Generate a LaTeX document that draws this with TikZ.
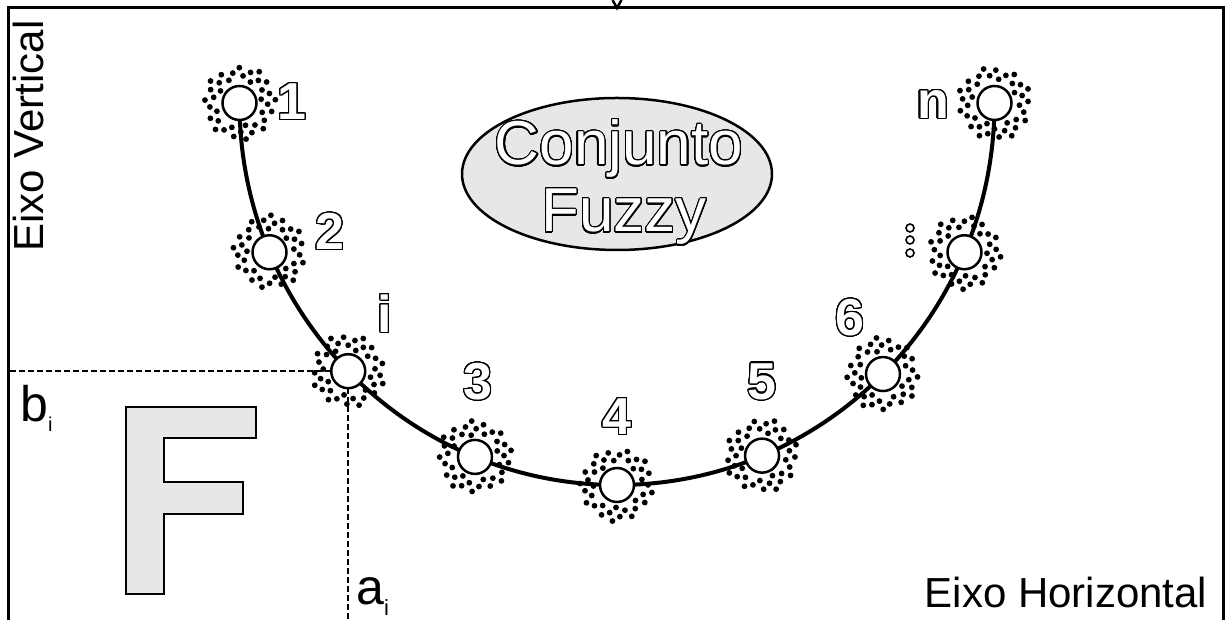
\documentclass[tikz,border=0pt]{standalone}
\usepackage{fontspec}
\setmainfont{Liberation Sans}
\usepackage{contour}
\contourlength{1.2pt}
\contournumber{32}
\usetikzlibrary{shapes.geometric,calc}
\definecolor{lightfill}{HTML}{E6E7E8}
\tikzset{
  frameline/.style={line width=3pt, line join=miter},
  curveline/.style={line width=4pt},
  ringnode/.style={circle, draw, line width=2.5pt, fill=white, minimum size=34pt, inner sep=0pt},
  numlabel/.style={inner sep=0pt, font=\fontsize{52}{52}\selectfont\bfseries, text=white},
  bigtext/.style={inner sep=0pt, font=\fontsize{62}{62}\selectfont, text=white, anchor=base},
  axislabel/.style={inner sep=0pt, font=\fontsize{42}{42}\selectfont},
  sublabel/.style={inner sep=0pt, font=\fontsize{50}{50}\selectfont, anchor=base west},
  dashline/.style={line width=2pt, dash pattern=on 6pt off 3pt},
  smalldot/.style={circle, draw, line width=1.6pt, fill=white, minimum size=8pt, inner sep=0pt},
  pics/puff/.style={code={
    \foreach \k in {0,...,37} {\fill ({mod(\k*137.508+#1,360)}:{sqrt(484+23.92*\k)}) circle (2.9);}
  }}
}
\begin{document}
\begin{tikzpicture}[x=1pt,y=1pt]
\useasboundingbox (0,0) rectangle (1229,620);
% frame
\draw[frameline] (8,-5) -- (8,612) -- (1223,612) -- (1223,-5);
\coordinate (tiptop) at (617,612);
\draw[line width=2.5pt, line join=miter] ($(tiptop)+(-4.5,8)$) -- (tiptop) -- ($(tiptop)+(4.5,8)$);
% positions on the curve
\coordinate (C) at (617,517);
\coordinate (qa) at ($(C)+(180:377.5 and 382)$);
\coordinate (qb) at ($(C)+(203:377.5 and 382)$);
\coordinate (qi) at ($(C)+(224.6:377.5 and 382)$);
\coordinate (qc) at ($(C)+(247.9:377.5 and 382)$);
\coordinate (qd) at ($(C)+(270:377.5 and 382)$);
\coordinate (qe) at ($(C)+(292.6:377.5 and 382)$);
\coordinate (qf) at ($(C)+(314.8:377.5 and 382)$);
\coordinate (qg) at ($(C)+(337:377.5 and 382)$);
\coordinate (qn) at ($(C)+(360:377.5 and 382)$);
% curve
\draw[curveline] (qa) arc[start angle=180, end angle=360, x radius=377.5pt, y radius=382pt];
% dashed guides
\coordinate (leftedge) at (8,0);
\coordinate (bottomedge) at (0,0);
\draw[dashline] ($(qi)+(-17,0)$) -- (qi -| leftedge);
\draw[dashline] ($(qi)+(0,-17)$) -- (qi |- bottomedge);
% puffs
\pic at (qa) {puff=10};
\pic at (qb) {puff=40};
\pic at (qi) {puff=70};
\pic at (qc) {puff=100};
\pic at (qd) {puff=130};
\pic at (qe) {puff=160};
\pic at (qf) {puff=190};
\pic at (qg) {puff=220};
\pic at (qn) {puff=250};
% ring nodes
\node[ringnode] (n1) at (qa) {};
\node[ringnode] (n2) at (qb) {};
\node[ringnode] (ni) at (qi) {};
\node[ringnode] (n3) at (qc) {};
\node[ringnode] (n4) at (qd) {};
\node[ringnode] (n5) at (qe) {};
\node[ringnode] (n6) at (qf) {};
\node[ringnode] (nd) at (qg) {};
\node[ringnode] (nn) at (qn) {};
% labels
\node[numlabel] (l1) at (292,518) {\contour{black}{1}};
\node[numlabel] (l2) at (330,388) {\contour{black}{2}};
\node[numlabel] (li) at (385,306) {\contour{black}{i}};
\node[numlabel] (l3) at (478,238) {\contour{black}{3}};
\node[numlabel] (l4) at (617,203) {\contour{black}{4}};
\node[numlabel] (l5) at (762,238) {\contour{black}{5}};
\node[numlabel] (l6) at (850,302) {\contour{black}{6}};
\node[numlabel] (ln) at (933,515) {\contour{black}{n}};
\node[smalldot] (d1) at (910,392) {};
\node[smalldot] (d2) at (910,380) {};
\node[smalldot] (d3) at (910,367) {};
% fuzzy ellipse
\node[ellipse, draw, line width=2.5pt, fill=lightfill, minimum width=310pt, minimum height=152pt] (fz) at (617,446) {};
\node[bigtext] (t1) at (619,455) {\contour{black}{Conjunto}};
\node[bigtext] (t2) at (624,388) {\contour{black}{Fuzzy}};
% big F
\draw[line width=2pt, fill=lightfill, line join=miter]
  (126,213) -- (256,213) -- (256,182) -- (164,182) -- (164,138) -- (243,138)
  -- (243,106) -- (164,106) -- (164,26) -- (126,26) -- cycle;
% axis labels
\node[axislabel, rotate=90] (ev) at (28,484) {Eixo Vertical};
\node[axislabel, anchor=base] (eh) at (1066,12) {Eixo Horizontal};
\node[sublabel] (bi) at (20,198) {b\raisebox{-10pt}{\fontsize{20}{20}\selectfont i}};
\node[sublabel] (ai) at (356,15) {a\raisebox{-11pt}{\fontsize{22}{22}\selectfont i}};
\end{tikzpicture}
\end{document}
